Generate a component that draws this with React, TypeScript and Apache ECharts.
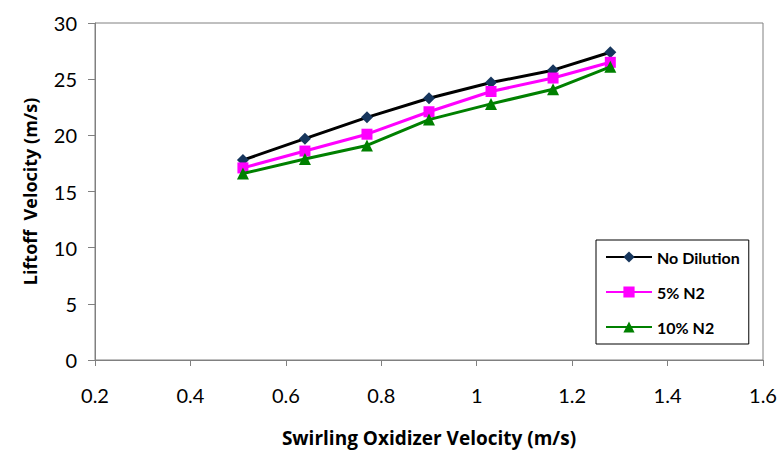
import React, { useEffect, useRef } from "react";
import * as echarts from "echarts";

const xValues = [0.51, 0.64, 0.77, 0.9, 1.03, 1.16, 1.28];
const noDilution = [17.8, 19.7, 21.6, 23.3, 24.7, 25.8, 27.4];
const n2Five = [17.1, 18.6, 20.1, 22.1, 23.9, 25.1, 26.5];
const n2Ten = [16.6, 17.9, 19.1, 21.4, 22.8, 24.1, 26.1];
const seriesNames = ["No Dilution", "5% N2", "10% N2"];

const FONT = "Lato";
const TITLE_FONT = "Open Sans";

export default function App() {
  const ref = useRef<HTMLDivElement>(null);
  useEffect(() => {
    if (!ref.current) return;
    const chart = echarts.init(ref.current, null, { renderer: "svg" });
    const pair = (ys: number[]) => xValues.map((x, i) => [x, ys[i]]);
    chart.setOption({
      animation: false,
      backgroundColor: "#ffffff",
      grid: {
        left: 95,
        right: 16,
        top: 23,
        bottom: 90,
        show: true,
        borderColor: "#808080",
        borderWidth: 1,
        outerBoundsMode: "none",
        containLabel: false,
      },
      xAxis: {
        type: "value",
        min: 0.2,
        max: 1.6,
        interval: 0.2,
        name: "Swirling Oxidizer Velocity (m/s)",
        nameLocation: "middle",
        nameGap: 68,
        nameTextStyle: { fontFamily: TITLE_FONT, fontSize: 19, fontWeight: "bold", color: "#000" },
        axisLine: { show: true, lineStyle: { color: "#808080" } },
        axisTick: { show: true, length: 6, lineStyle: { color: "#808080" } },
        axisLabel: {
          fontFamily: FONT,
          fontSize: 20,
          color: "#000",
          margin: 25,
          formatter: (v: number) => String(Math.round(v * 10) / 10),
        },
        splitLine: { show: false },
      },
      yAxis: {
        type: "value",
        min: 0,
        max: 30,
        interval: 5,
        name: "Liftoff  Velocity (m/s)",
        nameLocation: "middle",
        nameGap: 56,
        nameTextStyle: { fontFamily: TITLE_FONT, fontSize: 18, fontWeight: "bold", color: "#000" },
        axisLine: { show: true, lineStyle: { color: "#808080" } },
        axisTick: { show: true, length: 7, lineStyle: { color: "#808080" } },
        axisLabel: { fontFamily: FONT, fontSize: 20, color: "#000", margin: 18 },
        splitLine: { show: false },
      },
      legend: {
        orient: "vertical",
        left: 596,
        top: 240,
        padding: [8, 9, 8, 9],
        itemGap: 17,
        itemWidth: 46,
        itemHeight: 14,
        borderColor: "#000",
        borderWidth: 1,
        backgroundColor: "#fff",
        textStyle: {
          fontFamily: FONT,
          fontSize: 16,
          lineHeight: 18,
          fontWeight: "bold",
          color: "#000",
          padding: [0, 0, 0, 0],
        },
        data: seriesNames,
      },
      series: [
        {
          name: seriesNames[0],
          type: "line",
          data: pair(noDilution),
          symbol: "diamond",
          symbolSize: 12,
          lineStyle: { color: "#000000", width: 3 },
          itemStyle: { color: "#17365D" },
          z: 3,
        },
        {
          name: seriesNames[1],
          type: "line",
          data: pair(n2Five),
          symbol: "rect",
          symbolSize: 11,
          lineStyle: { color: "#FF00FF", width: 3 },
          itemStyle: { color: "#FF00FF" },
          z: 4,
        },
        {
          name: seriesNames[2],
          type: "line",
          data: pair(n2Ten),
          symbol: "triangle",
          symbolSize: 12,
          lineStyle: { color: "#008000", width: 3 },
          itemStyle: { color: "#008000" },
          z: 5,
        },
      ],
    });
    return () => chart.dispose();
  }, []);
  return (
    <div
      ref={ref}
      style={{ position: "fixed", left: 0, top: 0, width: 779, height: 450 }}
    />
  );
}
